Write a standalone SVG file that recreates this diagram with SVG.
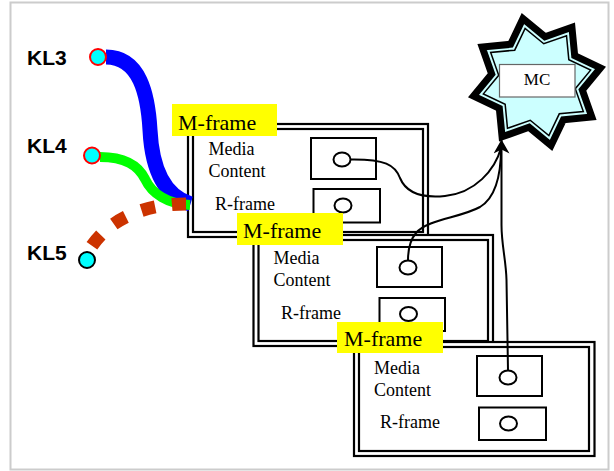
<svg xmlns="http://www.w3.org/2000/svg" xmlns:xlink="http://www.w3.org/1999/xlink" width="614" height="471" viewBox="0 0 614 471">
<style>
.fo{fill:#fff;stroke:#000;stroke-width:2.2}
.fi{fill:none;stroke:#000;stroke-width:2.2}
.box{fill:#fff;stroke:#000;stroke-width:2}
.dot{fill:#fff;stroke:#000;stroke-width:2}
.lab{fill:#ffff00}
.lt{font-family:"Liberation Serif","Times New Roman",serif;font-size:22px;fill:#000}
.t{font-family:"Liberation Serif","Times New Roman",serif;font-size:18px;fill:#000}
.kl{font-family:"Liberation Sans",Arial,sans-serif;font-weight:bold;font-size:21px;fill:#000}
.conn{fill:none;stroke:#000;stroke-width:2}
.kc{fill:#00ffff;stroke-width:2}
</style>
<defs>
<polygon id="star" points="63.46,-14.07 45.30,7.99 54.82,34.93 26.38,37.68 14.07,63.46 -7.99,45.30 -34.93,54.82 -37.68,26.38 -63.46,14.07 -45.30,-7.99 -54.82,-34.93 -26.38,-37.68 -14.07,-63.46 7.99,-45.30 34.93,-54.82 37.68,-26.38"/>
<marker id="ah" markerUnits="userSpaceOnUse" markerWidth="16" markerHeight="16" viewBox="0 0 16 16" refX="15" refY="8" orient="auto">
<path d="M15,8 L1,0 L5,8 L1,16 Z" fill="#000"/>
</marker>
</defs>
<rect x="10.5" y="2.5" width="598" height="467" fill="#fff" stroke="#cccccc" stroke-width="2"/>

<g id="mc">
<use xlink:href="#star" href="#star" transform="translate(537,82)" fill="#ccffff" stroke="#000" stroke-width="7" stroke-miterlimit="10"/>
<use xlink:href="#star" href="#star" transform="translate(537,82) scale(0.845)" fill="#ccffff" stroke="#000" stroke-width="1.8" stroke-miterlimit="10"/>
<rect x="499.5" y="64.5" width="75.5" height="32.5" fill="#fff" stroke="#666" stroke-width="1.2"/>
<text x="537" y="84.5" class="t" font-size="17" style="font-size:17px" text-anchor="middle">MC</text>
</g>

<g id="frame1">
<rect class="fo" x="188" y="124" width="240" height="113"/>
<rect class="fi" x="193" y="129" width="230" height="103"/>
<rect class="box" x="311" y="138" width="65" height="41"/>
<ellipse class="dot" cx="342" cy="159.5" rx="8.5" ry="7"/>
<rect class="box" x="313.5" y="189" width="66.5" height="33.5"/>
<ellipse class="dot" cx="343" cy="205.5" rx="8.5" ry="7"/>
<text class="t" x="208.5" y="155">Media</text>
<text class="t" x="208.5" y="177">Content</text>
<text class="t" x="215" y="210">R-frame</text>
<rect class="lab" x="172" y="104" width="105" height="32"/>
<text class="lt" x="178" y="130">M-frame</text>
</g>

<g id="frame2">
<rect class="fo" x="253.5" y="235" width="239.5" height="111"/>
<rect class="fi" x="258.5" y="240" width="229.5" height="101"/>
<rect class="box" x="377" y="247" width="65" height="40"/>
<ellipse class="dot" cx="408" cy="267.5" rx="8.5" ry="7"/>
<rect class="box" x="379.5" y="298" width="65.5" height="33"/>
<ellipse class="dot" cx="408.5" cy="314" rx="8.5" ry="7"/>
<text class="t" x="273.5" y="263.5">Media</text>
<text class="t" x="273.5" y="285.5">Content</text>
<text class="t" x="281" y="318.5">R-frame</text>
<rect class="lab" x="237" y="213" width="106" height="32"/>
<text class="lt" x="243" y="238">M-frame</text>
</g>

<g id="frame3">
<rect class="fo" x="354" y="342" width="240.5" height="114"/>
<rect class="fi" x="359" y="347" width="230" height="104"/>
<rect class="box" x="477" y="356" width="65" height="40"/>
<ellipse class="dot" cx="508" cy="377.5" rx="8.5" ry="7"/>
<rect class="box" x="479" y="407.5" width="67" height="32.5"/>
<ellipse class="dot" cx="508.5" cy="423.5" rx="8.5" ry="7"/>
<text class="t" x="374" y="373.5">Media</text>
<text class="t" x="374" y="395.5">Content</text>
<text class="t" x="380" y="427.5">R-frame</text>
<rect class="lab" x="337" y="322" width="106" height="31"/>
<text class="lt" x="344" y="346">M-frame</text>
</g>

<g id="connectors">
<path d="M106,57 C140,57 148,95 150,130 C152,170 165,196 190.5,204" fill="none" stroke="#0000ff" stroke-width="15"/>
<path d="M100,157 C125,157 138,165 145,179 C152,194 168,204 190,205" fill="none" stroke="#00ff00" stroke-width="10"/>
<path d="M186,204 C140,204 105,222 88,252" fill="none" stroke="#cc3300" stroke-width="13" stroke-dasharray="14 17"/>
<path class="conn" d="M350.5,159.5 C385,159 395,165 400,178 C407,195 425,198 445,196 C475,193 495,170 501,148"/>
<path class="conn" d="M408,260.5 C408,248 410,240 416,233 C428,219 460,218 480,207 C495,198 501,175 501,148"/>
<path class="conn" d="M508,370.5 L506.5,280 C506,260 501.5,245 501.5,225 L501.5,139.5" marker-end="url(#ah)"/>
</g>

<g id="kl3">
<circle class="kc" cx="98" cy="57" r="8" stroke="#ff0000"/>
<text class="kl" x="27" y="65">KL3</text>
</g>
<g id="kl4">
<circle class="kc" cx="92" cy="155.5" r="8" stroke="#ff0000"/>
<text class="kl" x="27" y="153">KL4</text>
</g>
<g id="kl5">
<circle class="kc" cx="87" cy="260" r="8" stroke="#000"/>
<text class="kl" x="27" y="260">KL5</text>
</g>
</svg>
